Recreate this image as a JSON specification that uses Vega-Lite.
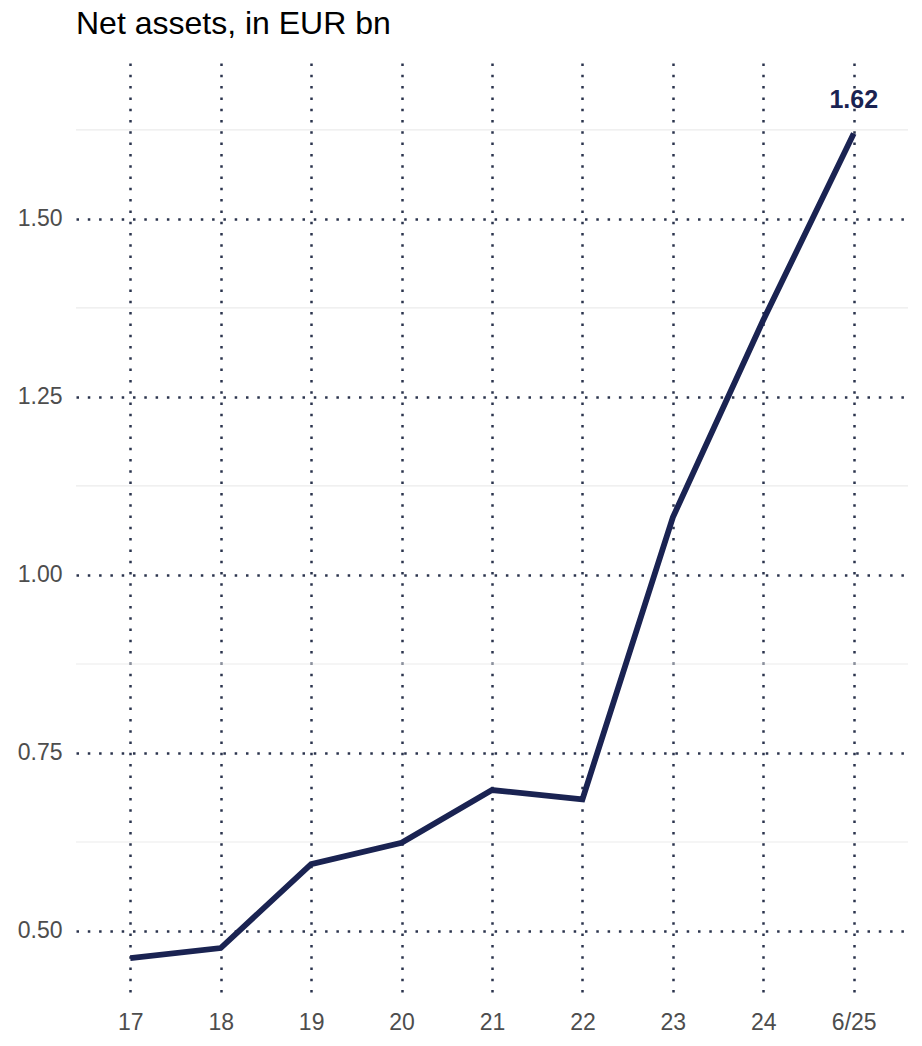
{
  "$schema": "https://vega.github.io/schema/vega-lite/v6.json",
  "width": 832,
  "height": 936,
  "autosize": {"type": "none"},
  "padding": {"left": 76, "top": 63, "right": 14, "bottom": 47},
  "background": "white",
  "config": {
    "view": {"stroke": null},
    "font": "Liberation Sans"
  },
  "title": {
    "text": "Net assets, in EUR bn",
    "anchor": "start",
    "frame": "group",
    "fontSize": 32,
    "fontWeight": "normal",
    "color": "#000000",
    "font": "Liberation Sans",
    "baseline": "alphabetic",
    "offset": -3
  },
  "datasets": {
    "series": [
      {"label": "17", "value": 0.462},
      {"label": "18", "value": 0.476},
      {"label": "19", "value": 0.594},
      {"label": "20", "value": 0.624},
      {"label": "21", "value": 0.698},
      {"label": "22", "value": 0.685},
      {"label": "23", "value": 1.081},
      {"label": "24", "value": 1.358},
      {"label": "6/25", "value": 1.62}
    ],
    "minor": [
      {"v": 0.625}, {"v": 0.875}, {"v": 1.125}, {"v": 1.375}, {"v": 1.625}
    ]
  },
  "layer": [
    {
      "data": {"name": "minor"},
      "mark": {"type": "rule", "color": "#ebebeb", "strokeWidth": 1.2},
      "encoding": {
        "y": {"field": "v", "type": "quantitative"}
      }
    },
    {
      "data": {"name": "series"},
      "mark": {"type": "line", "color": "#1a2352", "strokeWidth": 5.8, "strokeCap": "butt", "strokeJoin": "miter"},
      "encoding": {
        "x": {
          "field": "label",
          "type": "ordinal",
          "sort": ["17", "18", "19", "20", "21", "22", "23", "24", "6/25"],
          "scale": {"type": "point", "padding": 0.6},
          "axis": {
            "title": null,
            "domain": false,
            "ticks": false,
            "labelAngle": 0,
            "labelFontSize": 23,
            "labelColor": "#4d4d4d",
            "labelPadding": 12,
            "grid": true,
            "gridColor": "#2b344d",
            "gridWidth": 2.5,
            "gridDash": [2.5, 8.8],
            "gridCap": "butt"
          }
        },
        "y": {
          "field": "value",
          "type": "quantitative",
          "scale": {"domain": [0.4045, 1.719], "nice": false, "zero": false},
          "axis": {
            "title": null,
            "domain": false,
            "ticks": false,
            "values": [0.5, 0.75, 1.0, 1.25, 1.5],
            "format": ".2f",
            "labelFontSize": 23,
            "labelColor": "#4d4d4d",
            "labelPadding": 14,
            "grid": true,
            "gridColor": "#2b344d",
            "gridWidth": 2.5,
            "gridDash": [2.5, 8.8],
            "gridCap": "butt"
          }
        }
      }
    },
    {
      "data": {"name": "series"},
      "transform": [{"filter": "datum.label === '6/25'"}],
      "mark": {"type": "text", "fontSize": 25, "fontWeight": "bold", "color": "#1a2352", "dy": -33, "baseline": "middle", "align": "center"},
      "encoding": {
        "x": {"field": "label", "type": "ordinal", "sort": ["17", "18", "19", "20", "21", "22", "23", "24", "6/25"]},
        "y": {"field": "value", "type": "quantitative"},
        "text": {"field": "value", "type": "quantitative", "format": ".2f"}
      }
    }
  ]
}
